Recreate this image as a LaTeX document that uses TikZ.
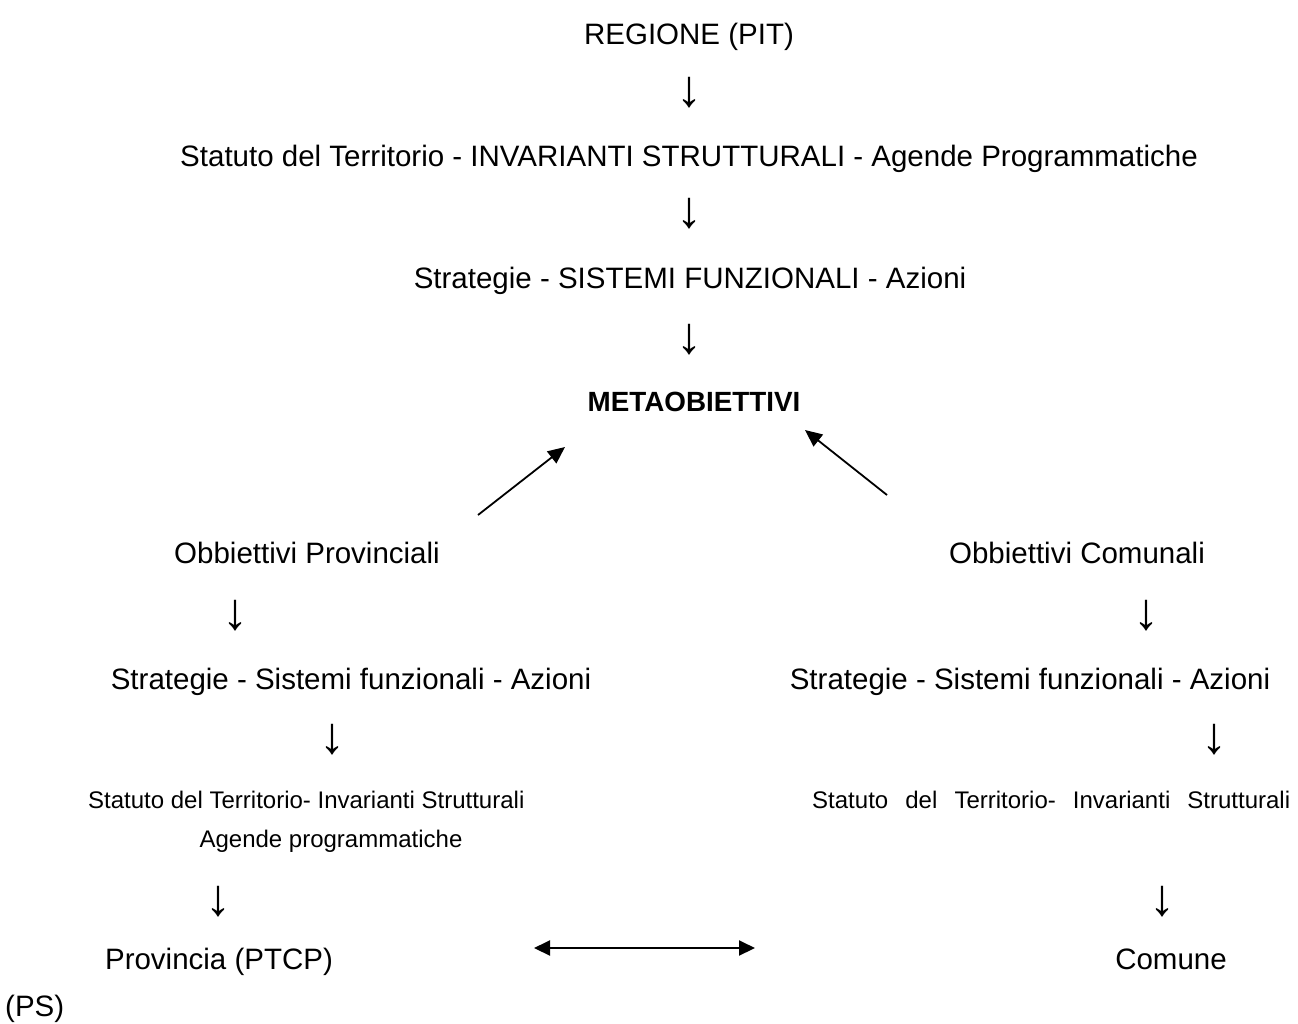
\documentclass[tikz,border=0pt]{standalone}
\usepackage{fontspec}
\setmainfont{Liberation Sans}
\usetikzlibrary{arrows.meta}
\begin{document}
\begin{tikzpicture}[x=1pt,y=-1pt,
  big/.style={inner sep=0pt,font=\fontsize{29.5}{34}\selectfont,anchor=base},
  small/.style={inner sep=0pt,font=\fontsize{24}{28}\selectfont,anchor=base},
  dn/.style={inner sep=0pt,font=\fontsize{52}{56}\selectfont,anchor=center},
  conn/.style={line width=1.8pt,-{Triangle[length=17pt,width=15pt]}},
  biconn/.style={line width=2pt,{Triangle[length=16pt,width=15pt]}-{Triangle[length=16pt,width=15pt]}}]
\useasboundingbox (0,0) rectangle (1298,1023);
\fill[white] (0,0) rectangle (1298,1023);
\node[big] (reg) at (689,44) {REGIONE (PIT)};
\node[dn] (d1) at (689,93) {↓};
\node[big] (stat) at (689,166) {Statuto del Territorio - INVARIANTI STRUTTURALI - Agende Programmatiche};
\node[dn] (d2) at (689,214) {↓};
\node[big] (strat) at (690,288) {Strategie - SISTEMI FUNZIONALI - Azioni};
\node[dn] (d3) at (689,340) {↓};
\node[big,font=\fontsize{27.8}{32}\selectfont\bfseries] (meta) at (694,411) {METAOBIETTIVI};
\coordinate (la) at (478,515);
\coordinate (lb) at (565,447);
\coordinate (ra) at (887,495);
\coordinate (rb) at (805,430);
\draw[conn] (la) -- (lb);
\draw[conn] (ra) -- (rb);
\node[big] (op) at (307,563) {Obbiettivi Provinciali};
\node[big] (oc) at (1077,563) {Obbiettivi Comunali};
\node[dn] (d4) at (235,616) {↓};
\node[dn] (d5) at (1146,616) {↓};
\node[big] (sl) at (351,689) {Strategie - Sistemi funzionali - Azioni};
\node[big] (sr) at (1030,689) {Strategie - Sistemi funzionali - Azioni};
\node[dn] (d6) at (332,740) {↓};
\node[dn] (d7) at (1214,740) {↓};
\node[small,anchor=base west] (tl) at (88,808) {Statuto del Territorio- Invarianti Strutturali};
\node[small] (al) at (331,847) {Agende programmatiche};
\node[small,anchor=base west] (tr) at (812,808) {\hbox to 478pt{Statuto\hfill del\hfill Territorio-\hfill Invarianti\hfill Strutturali}};
\node[dn] (d8) at (218,902) {↓};
\node[dn] (d9) at (1162,902) {↓};
\node[big] (prov) at (219,969) {Provincia (PTCP)};
\node[big] (com) at (1171,969) {Comune};
\coordinate (hl) at (534,948);
\coordinate (hr) at (755,948);
\draw[biconn] (hl) -- (hr);
\node[big,anchor=base west] (ps) at (5,1016) {(PS)};
\end{tikzpicture}
\end{document}
